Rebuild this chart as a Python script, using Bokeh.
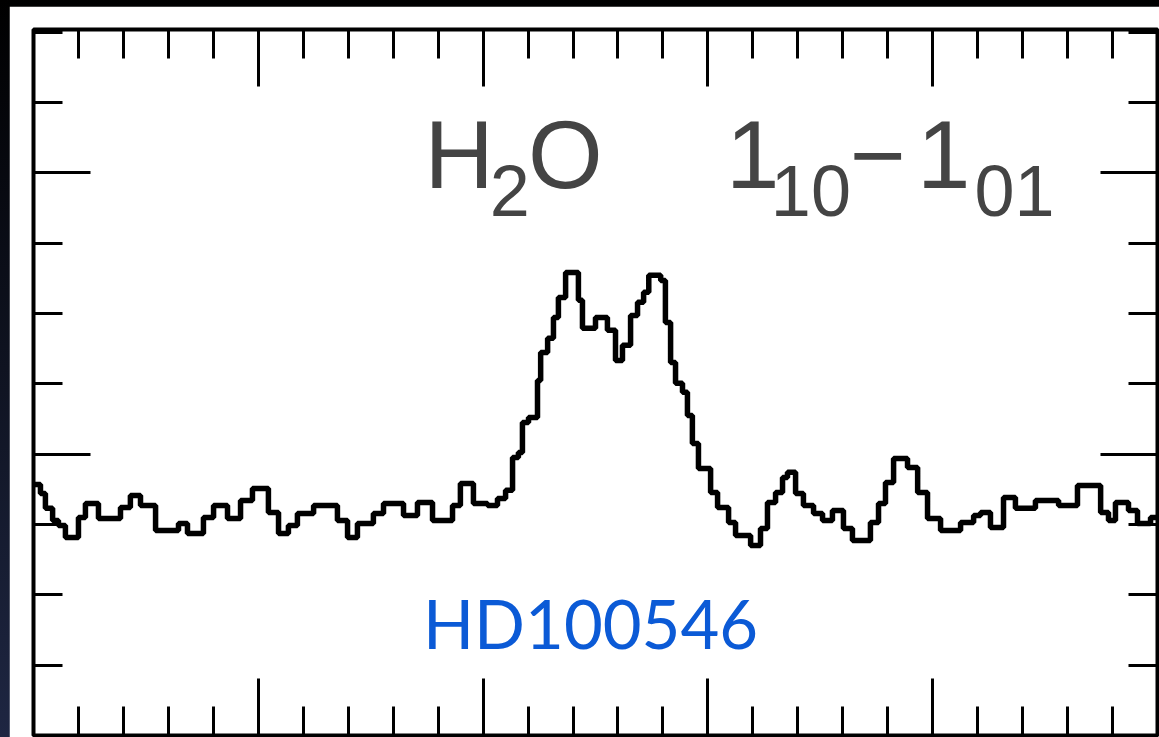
from bokeh.plotting import figure
from bokeh.models import Range1d, LinearAxis, FixedTicker, Label, CustomLabelingPolicy
from bokeh.embed import file_html
from bokeh.resources import INLINE

# ---- data ----
# velocity (km/s) at the start of each spectral step, and the flux (mK, offset) of the step
velocity = [-20.00, -19.69, -19.47, -19.15, -18.89, -18.58, -18.00, -17.69, -17.11, -16.13,
            -15.69, -15.24, -14.57, -13.55, -13.15, -12.44, -11.99, -11.37, -10.79, -10.26,
            -9.55, -9.10, -8.66, -8.26, -7.54, -6.48, -6.03, -5.59, -4.88, -4.43,
            -3.54, -2.92, -2.25, -1.36, -1.01, -0.43, 0.20, 0.64, 1.00, 1.31,
            1.57, 1.75, 2.02, 2.42, 2.56, 2.87, 3.13, 3.35, 3.67, 4.24,
            4.42, 5.00, 5.53, 5.89, 6.20, 6.56, 6.87, 7.14, 7.37, 7.90,
            8.11, 8.34, 8.56, 8.87, 9.09, 9.31, 9.58, 10.12, 10.43, 10.92,
            11.23, 11.90, 12.34, 12.65, 13.01, 13.32, 13.54, 13.90, 14.25, 14.70,
            15.10, 15.54, 16.03, 16.43, 17.23, 17.59, 17.90, 18.26, 18.88, 19.33,
            19.77, 20.35, 21.24, 21.82, 22.13, 22.57, 23.15, 23.68, 24.57, 25.60,
            26.44, 27.47, 27.82, 28.13, 28.71, 29.11, 29.69, 30.00]
flux = [17.85, 17.21, 16.15, 15.29, 14.94, 14.08, 15.50, 16.50, 15.43, 16.22,
        17.07, 16.36, 14.58, 15.08, 14.37, 15.50, 16.36, 15.43, 16.71, 17.57,
        15.86, 14.37, 14.94, 15.79, 16.36, 15.29, 14.08, 15.08, 15.79, 16.50,
        15.65, 16.57, 15.29, 16.36, 17.92, 16.50, 16.36, 16.86, 17.43, 19.77,
        20.13, 22.26, 22.62, 25.25, 27.24, 28.24, 29.73, 31.15, 32.93, 30.94,
        28.95, 29.73, 28.81, 26.67, 27.74, 29.87, 30.80, 31.51, 32.72, 32.36,
        29.37, 26.53, 25.04, 24.40, 22.76, 20.77, 18.99, 17.28, 16.22, 15.15,
        14.22, 13.51, 14.72, 16.57, 17.28, 18.35, 18.71, 17.21, 16.36, 15.79,
        15.29, 16.00, 14.72, 13.87, 15.15, 16.50, 17.99, 19.70, 19.06, 17.28,
        15.43, 14.58, 15.15, 15.65, 15.86, 14.79, 16.93, 16.15, 16.71, 16.36,
        17.78, 15.86, 15.29, 16.57, 16.00, 15.08, 15.50, 15.50]

x_major = [-20, -10, 0, 10, 20, 30]
x_minor = list(range(-20, 31, 2))
y_major = [0, 20, 40]
y_minor = list(range(0, 51, 5))

title_parts = ["H", "2", "O", "1", "10", "\u2212", "1", "01"]
source_name = "HD100546"

# ---- figure ----
p = figure(width=1150, height=731, output_backend="svg", toolbar_location=None,
           x_range=Range1d(-20, 30), y_range=Range1d(0, 50.2),
           x_axis_location=None, y_axis_location=None,
           min_border_left=24, min_border_top=23, min_border_right=2, min_border_bottom=2)
p.margin = (6, 0, 0, 9)
p.grid.visible = False
p.background_fill_color = "white"
p.border_fill_color = "white"
p.outline_line_color = "black"
p.outline_line_width = 4

hide_labels = CustomLabelingPolicy(code="for (const i of indices) { indices.unset(i) } return indices")

def style_axis(ax, major, minor):
    ax.ticker = FixedTicker(ticks=major, minor_ticks=minor)
    ax.axis_line_color = None
    ax.major_tick_in = 57
    ax.major_tick_out = 0
    ax.minor_tick_in = 29
    ax.minor_tick_out = 0
    ax.major_tick_line_color = "black"
    ax.minor_tick_line_color = "black"
    ax.major_tick_line_width = 3
    ax.minor_tick_line_width = 3
    ax.major_label_policy = hide_labels
    ax.major_label_text_font_size = "0px"
    ax.major_label_standoff = 0
    ax.axis_label = None
    ax.axis_label_standoff = 0

for loc in ("below", "above"):
    ax = LinearAxis()
    style_axis(ax, x_major, x_minor)
    p.add_layout(ax, loc)
for loc in ("left", "right"):
    ax = LinearAxis()
    style_axis(ax, y_major, y_minor)
    p.add_layout(ax, loc)

p.step(velocity, flux, mode="after", line_color="black", line_width=5.5)

# ---- title pieces (H2O 1_10 - 1_01) ----
main_y = 41.3
sub_y = 38.7
big = "96px"
small = "72px"
pieces = [
    (title_parts[0], -2.61, main_y, big),
    (title_parts[1], 0.30, sub_y, small),
    (title_parts[2], 2.0, main_y, big),
    (title_parts[3], 10.8, main_y, big),
    (title_parts[4], 12.8, sub_y, small),
    (title_parts[5], 16.3, main_y, big),
    (title_parts[6], 19.3, main_y, big),
    (title_parts[7], 21.86, sub_y, small),
]
for txt, xv, yv, fs in pieces:
    p.add_layout(Label(x=xv, y=yv, text=txt, text_font="Liberation Sans",
                       text_font_size=fs, text_color="#444444",
                       text_baseline="alphabetic", text_align="left"))

p.add_layout(Label(x=4.78, y=8.0, text=source_name, text_font="Lato",
                   text_font_size="67px", text_color="#0b5ad6",
                   text_baseline="alphabetic", text_align="center"))

html = file_html(p, INLINE)
html = html.replace("</head>",
                    "<style>html, body { background: linear-gradient(#000000, #1e2642) !important; overflow: hidden; }</style></head>", 1)
open("out.html", "w").write(html)
